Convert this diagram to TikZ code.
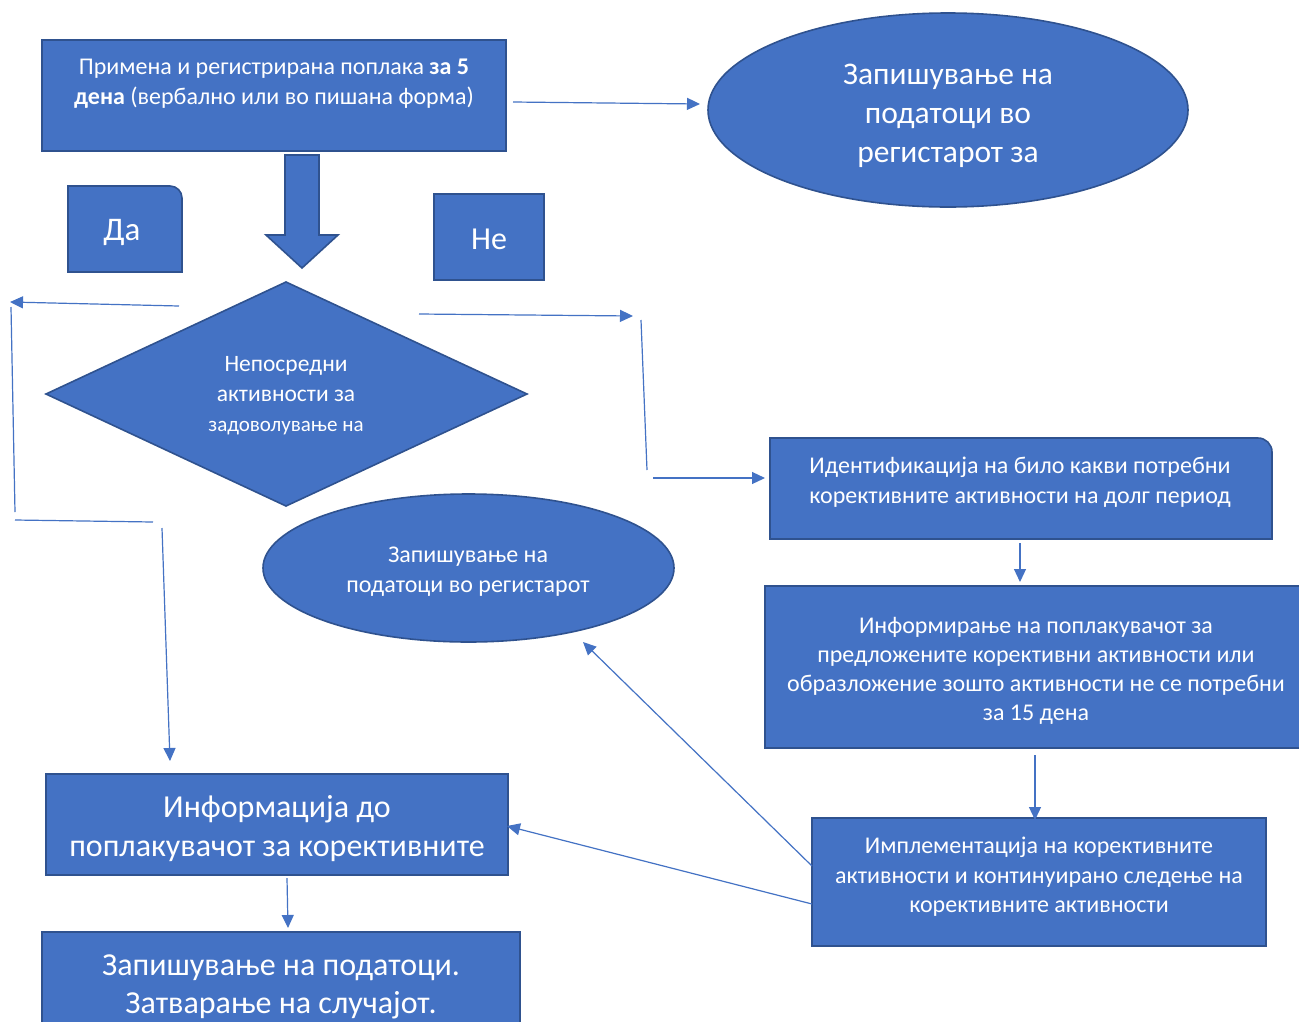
\documentclass[tikz,border=0pt]{standalone}
\usepackage{fontspec}
\setmainfont{Carlito}
\usetikzlibrary{arrows.meta,shapes.geometric}
\definecolor{bfill}{HTML}{4472C4}
\definecolor{bdraw}{HTML}{2F528F}
\definecolor{lcol}{HTML}{4472C4}
\newcommand\setfs[2]{\fontsize{#1}{#2}\selectfont}
\tikzset{
 shp/.style={fill=bfill, draw=bdraw, line width=1.6pt},
 rbox/.style={shp, rectangle, inner sep=0pt, outer sep=0pt},
 ebox/.style={shp, ellipse, inner sep=0pt, outer sep=0pt},
 txt/.style={text=white, align=center, inner sep=0pt},
 conn/.style={draw=lcol, line width=1.2pt},
 arr/.style={conn, -{Triangle[length=13pt,width=12pt]}},
}
\begin{document}
\begin{tikzpicture}[x=1pt,y=-1pt]
\useasboundingbox (0,0) rectangle (1299,1021);
\fill[white] (0,0) rectangle (1299,1021);
\clip (0,0) rectangle (1299,1021);

% top box
\node[rbox, minimum width=464pt, minimum height=111pt] (b1) at (274,95.5) {};
\node[txt, font=\setfs{24}{30}] (t1) at (274,84) {Примена и регистрирана поплака \textbf{за 5}\\\textbf{дена} (вербално или во пишана форма)};

% top ellipse
\node[ebox, minimum width=480pt, minimum height=194pt] (e1) at (948,110) {};
\node[txt, font=\setfs{31.5}{39}] (te1) at (948,116) {Запишување на\\податоци во\\регистарот за};

% block arrow
\draw[shp, line join=miter] (285,155) -- (319,155) -- (319,235) -- (338,235) -- (302,268) -- (266,235) -- (285,235) -- cycle;

% Da box
\draw[shp] (68,272) -- (68,186) -- (170,186) .. controls (176.6,186) and (182,191.4) .. (182,198) -- (182,272) -- cycle;
\node[txt, font=\setfs{33}{38}] (tda) at (122,232) {Да};

% Ne box
\node[rbox, minimum width=110pt, minimum height=86pt] (bne) at (489,237) {};
\node[txt, font=\setfs{32}{38}] (tne) at (489,239) {Не};

% diamond
\draw[shp] (46,394) -- (286,282) -- (527,394) -- (286,506) -- cycle;
\node[txt, font=\setfs{23.5}{30}] (tdia) at (286,396) {Непосредни\\активности за\\{\setfs{21}{24}задоволување на}};

% ellipse 2
\node[ebox, minimum width=411pt, minimum height=148pt] (e2) at (468.5,568) {};
\node[txt, font=\setfs{24}{30}] (te2) at (468,572) {Запишување на\\податоци во регистарот};

% Identification box
\draw[shp] (770,539) -- (770,438) -- (1258,438) .. controls (1265.7,438) and (1272,444.3) .. (1272,452) -- (1272,539) -- cycle;
\node[txt, font=\setfs{24}{30}] (tid) at (1020,482) {Идентификација на било какви потребни\\корективните активности на долг период};

% Inform box
\node[rbox, minimum width=545pt, minimum height=162pt] (binf) at (1037.5,667) {};
\node[txt, font=\setfs{24}{29}] (tinf) at (1036,670.5) {Информирање на поплакувачот за\\предложените корективни активности или\\образложение зошто активности не се потребни\\за 15 дена};

% Implementation box
\node[rbox, minimum width=454pt, minimum height=128pt] (bimp) at (1039,882) {};
\node[txt, font=\setfs{24}{29.5}] (timp) at (1039,877) {Имплементација на корективните\\активности и континуирано следење на\\корективните активности};

% Information box
\node[rbox, minimum width=462pt, minimum height=101pt] (binfo) at (277,824.5) {};
\node[txt, font=\setfs{32}{39}] (tinfo) at (277,828.5) {Информација до\\поплакувачот за корективните};

% Closing box
\node[rbox, minimum width=478pt, minimum height=110pt] (bclose) at (281,987) {};
\node[txt, font=\setfs{32}{38}] (tclose) at (281,987) {Запишување на податоци.\\Затварање на случајот.};

% connector coordinates
\coordinate (a1) at (513,102); \coordinate (a2) at (700,104);
\coordinate (d1) at (179,306); \coordinate (d2) at (10,302);
\coordinate (d3) at (11,307);  \coordinate (d4) at (15,512);
\coordinate (d5) at (15,520);  \coordinate (d6) at (153,522);
\coordinate (d7) at (162,528); \coordinate (d8) at (170,761);
\coordinate (n1) at (419,314); \coordinate (n2) at (633,316);
\coordinate (n3) at (641,320); \coordinate (n4) at (647,470);
\coordinate (n5) at (653,478); \coordinate (n6) at (765,478);
\coordinate (f1) at (1020,543); \coordinate (f2) at (1020,582);
\coordinate (g1) at (1035,755); \coordinate (g2) at (1035,820);
\coordinate (h1) at (812,866); \coordinate (h2) at (583,642);
\coordinate (k1) at (812,904); \coordinate (k2) at (507,826);
\coordinate (m1) at (287,878); \coordinate (m2) at (288,928);

\draw[arr] (a1) -- (a2);
\draw[arr] (d1) -- (d2);
\draw[conn] (d3) -- (d4);
\draw[conn] (d5) -- (d6);
\draw[arr] (d7) -- (d8);
\draw[arr] (n1) -- (n2);
\draw[conn] (n3) -- (n4);
\draw[arr] (n5) -- (n6);
\draw[arr] (f1) -- (f2);
\draw[arr] (g1) -- (g2);
\draw[arr] (h1) -- (h2);
\draw[arr] (k1) -- (k2);
\draw[arr] (m1) -- (m2);
\end{tikzpicture}
\end{document}
